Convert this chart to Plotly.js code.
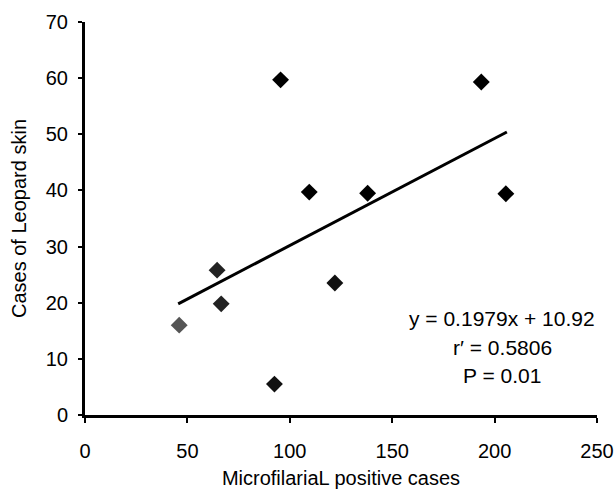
<!DOCTYPE html>
<html>
<head>
<meta charset="utf-8">
<script src="https://cdn.plot.ly/plotly-3.0.1.min.js"></script>
<style>html,body{margin:0;padding:0;background:#fff;}#chart{width:614px;height:494px;}</style>
</head>
<body>
<div id="chart"></div>
<script>
// Data
const microfilarialCases = [46, 64.5, 66.5, 92.5, 95.5, 109.5, 122, 138, 193.5, 205.5];
const leopardSkinCases   = [16, 25.8, 19.8, 5.5, 59.7, 39.7, 23.5, 39.5, 59.3, 39.4];
const pointColors = ['#555555', '#222222', '#222222', '#111111', '#000000', '#000000', '#111111', '#000000', '#000000', '#000000'];
const trendX = [45.5, 206];
const trendY = [19.8, 50.4];
const xTicks = [0, 50, 100, 150, 200, 250];
const yTicks = [0, 10, 20, 30, 40, 50, 60, 70];
const statLines = ['y = 0.1979x + 10.92', 'r\u2032 = 0.5806', 'P = 0.01'];

const font = "Liberation Sans, Arial, sans-serif";

const traces = [
  {
    x: trendX, y: trendY, mode: 'lines', type: 'scatter',
    line: {color: '#000', width: 3}, hoverinfo: 'skip', showlegend: false
  },
  {
    x: microfilarialCases, y: leopardSkinCases, mode: 'markers', type: 'scatter',
    marker: {symbol: 'diamond', size: 13, color: pointColors, line: {width: 0}},
    showlegend: false
  }
];

const layout = {
  width: 614, height: 494,
  margin: {l: 85, r: 17, t: 22, b: 79},
  paper_bgcolor: '#fff', plot_bgcolor: '#fff',
  font: {family: font, color: '#000', size: 20},
  showlegend: false,
  xaxis: {
    range: [0, 250], tickvals: xTicks, ticktext: xTicks.map(String),
    showgrid: false, zeroline: false, showline: true, linecolor: '#000', linewidth: 3,
    ticks: 'outside', ticklen: 5, tickwidth: 2, tickcolor: '#000',
    ticklabelstandoff: 11,
    tickfont: {family: font, size: 20, color: '#000'},
    title: {text: 'MicrofilariaL positive cases', font: {family: font, size: 20, color: '#000'}, standoff: 10},
    fixedrange: true
  },
  yaxis: {
    range: [0, 70], tickvals: yTicks, ticktext: yTicks.map(String),
    showgrid: false, zeroline: false, showline: true, linecolor: '#000', linewidth: 3,
    ticks: 'outside', ticklen: 4, tickwidth: 2, tickcolor: '#000',
    ticklabelstandoff: 6,
    tickfont: {family: font, size: 20, color: '#000'},
    title: {text: 'Cases of Leopard skin', font: {family: font, size: 20, color: '#000'}, standoff: 14},
    fixedrange: true
  },
  annotations: [
    {xref: 'paper', yref: 'paper', x: 1.0, y: (415 - 318) / 393, text: statLines[0], showarrow: false,
     xanchor: 'right', yanchor: 'middle', font: {family: font, size: 21, color: '#000'}},
    {xref: 'paper', yref: 'paper', x: (502 - 85) / 512, y: (415 - 347) / 393, text: statLines[1], showarrow: false,
     xanchor: 'center', yanchor: 'middle', font: {family: font, size: 21, color: '#000'}},
    {xref: 'paper', yref: 'paper', x: (502 - 85) / 512, y: (415 - 375) / 393, text: statLines[2], showarrow: false,
     xanchor: 'center', yanchor: 'middle', font: {family: font, size: 21, color: '#000'}}
  ]
};

Plotly.newPlot('chart', traces, layout, {displayModeBar: false, staticPlot: true});
</script>
</body>
</html>
